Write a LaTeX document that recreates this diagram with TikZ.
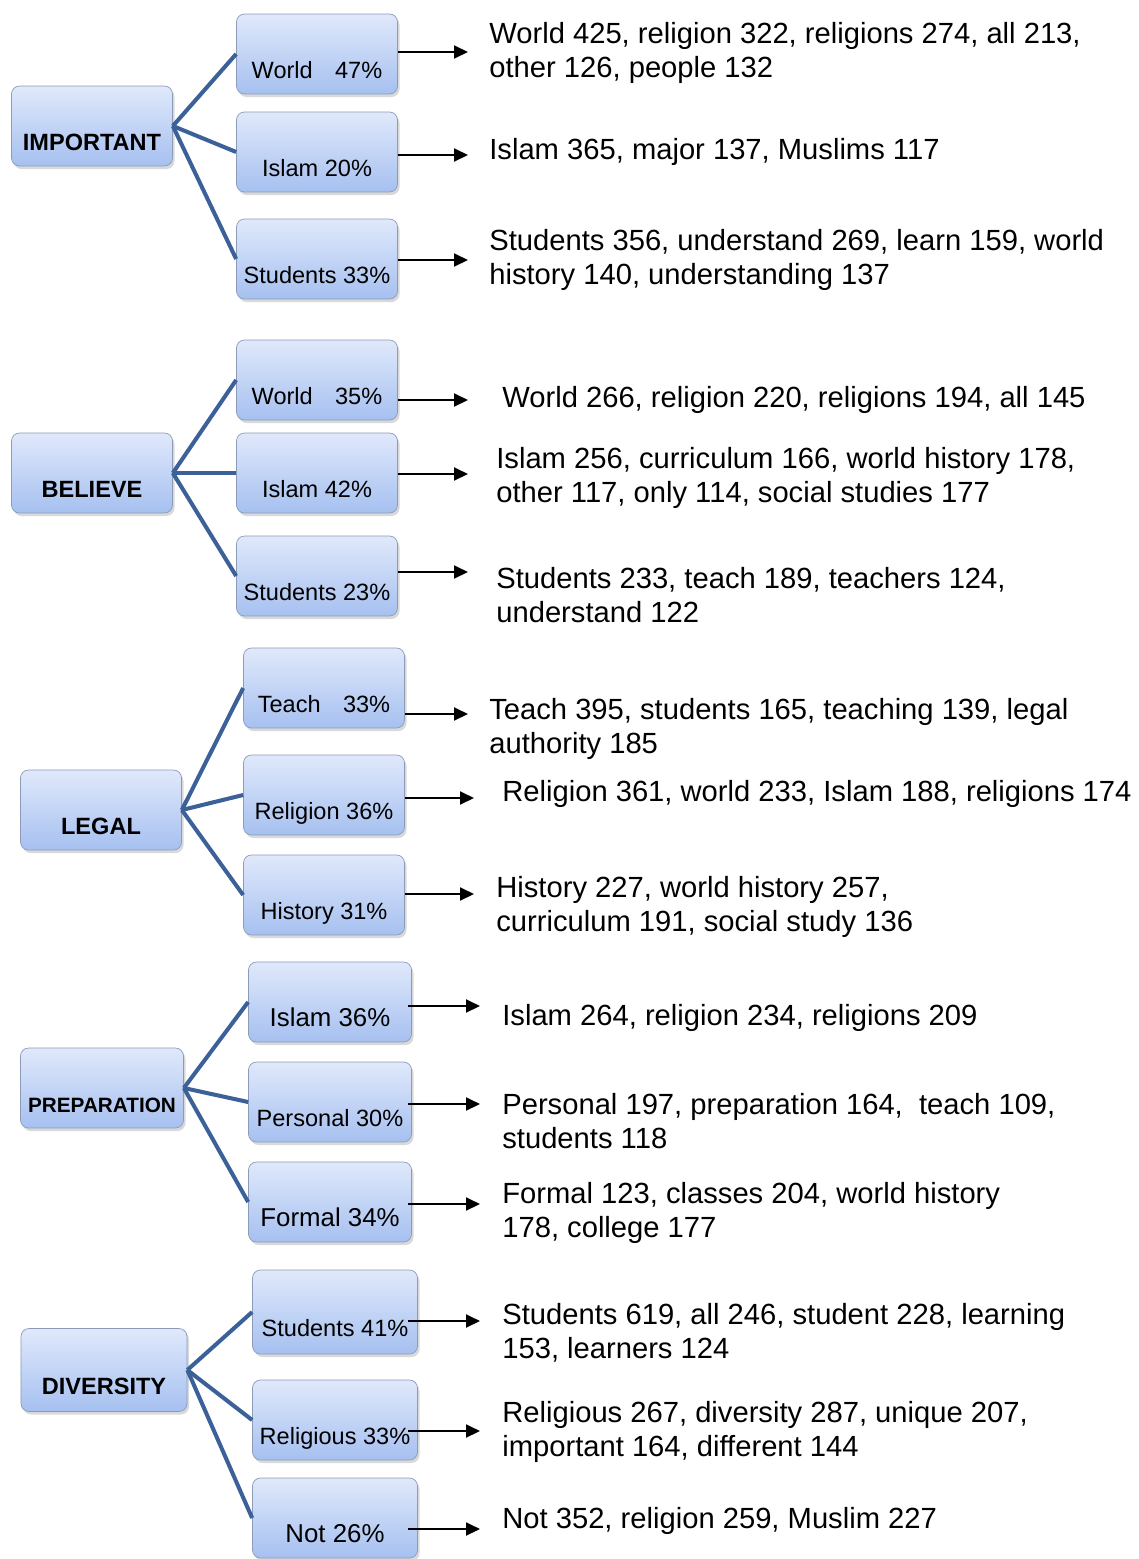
\documentclass[tikz,border=0pt]{standalone}
\usepackage{fontspec}
\setmainfont{Liberation Sans}
\usetikzlibrary{arrows.meta, shadows}
\definecolor{boxtop}{HTML}{E0E9FB}
\definecolor{boxbot}{HTML}{A6C0F0}
\definecolor{boxedge}{HTML}{8C9CB8}
\definecolor{linkblue}{HTML}{3C6198}
\tikzset{
    box/.style={draw=boxedge, rounded corners=1.6mm, top color=boxtop, bottom color=boxbot,
        minimum width=32.2mm, minimum height=16mm, inner sep=0pt,
        text height=28.3pt, text depth=0pt, font=\fontsize{13.4}{16}\selectfont,
        drop shadow={shadow xshift=0.4mm, shadow yshift=-0.6mm, opacity=0.3}}, % Shaded boxes
    root/.style={box, font=\fontsize{13.4}{16}\selectfont\bfseries}, % Theme boxes
    big/.style={font=\fontsize{14.7}{17}\selectfont}, % Slightly larger labels
    info/.style={anchor=west, align=left, inner sep=0pt, yshift=-0.6mm,
        font=\fontsize{16.6}{19.3}\selectfont},
    link/.style={draw=linkblue, line width=2.3pt}, % Tree branches
    arr/.style={-{Triangle[length=2.8mm, width=2.6mm]}, line width=1.1pt},
}
\begin{document}
\begin{tikzpicture}[x=0.2mm, y=-0.2mm]

    \useasboundingbox (0,0) rectangle (1138,1559);

    % --- IMPORTANT ---
    \node[root] (imp) at (92,126) {IMPORTANT};
    \node[box] (impW) at (317,54) {World\hspace{0.95em}47\%};
    \node[box] (impI) at (317,152) {Islam 20\%};
    \node[box] (impS) at (317,259) {Students 33\%};

    % --- BELIEVE ---
    \node[root] (bel) at (92,473) {BELIEVE};
    \node[box] (belW) at (317,380) {World\hspace{0.95em}35\%};
    \node[box] (belI) at (317,473) {Islam 42\%};
    \node[box] (belS) at (317,576) {Students 23\%};

    % --- LEGAL ---
    \node[root] (leg) at (101,810) {LEGAL};
    \node[box] (legT) at (324,688) {Teach\hspace{0.95em}33\%};
    \node[box] (legR) at (324,795) {Religion 36\%};
    \node[box] (legH) at (324,895) {History 31\%};

    % --- PREPARATION ---
    \node[root, minimum width=32.6mm, font=\fontsize{11.8}{14}\selectfont\bfseries] (pre) at (102,1088) {PREPARATION};
    \node[box, big, minimum width=32.6mm] (preI) at (330,1002) {Islam 36\%};
    \node[box, minimum width=32.6mm] (preP) at (330,1102) {Personal 30\%};
    \node[box, big, minimum width=32.6mm] (preF) at (330,1202) {Formal 34\%};

    % --- DIVERSITY ---
    \node[root, minimum width=33.2mm, minimum height=16.6mm] (div) at (104,1370) {DIVERSITY};
    \node[box, minimum width=33mm, minimum height=16.8mm] (divS) at (335,1312) {Students 41\%};
    \node[box, minimum width=33mm] (divR) at (335,1420) {Religious 33\%};
    \node[box, big, minimum width=33mm] (divN) at (335,1518) {Not 26\%};

    % --- Branches ---
    \foreach \r/\a/\b/\c in {imp/impW/impI/impS, bel/belW/belI/belS, leg/legT/legR/legH,
                             pre/preI/preP/preF, div/divS/divR/divN}{
        \draw[link] (\r.east) -- (\a.west);
        \draw[link] (\r.east) -- (\b.west);
        \draw[link] (\r.east) -- (\c.west);
    }

    % --- Arrow ends ---
    \coordinate (e1) at (468,52);
    \coordinate (e2) at (468,155);
    \coordinate (e3) at (468,260);
    \coordinate (e4) at (468,400);
    \coordinate (e5) at (468,474);
    \coordinate (e6) at (468,572);
    \coordinate (e7) at (468,714);
    \coordinate (e8) at (474,798);
    \coordinate (e9) at (474,894);
    \coordinate (e10) at (480,1006);
    \coordinate (e11) at (480,1104);
    \coordinate (e12) at (480,1204);
    \coordinate (e13) at (480,1321);
    \coordinate (e14) at (480,1431);
    \coordinate (e15) at (480,1529);

    \draw[arr] (impW.east |- e1) -- (e1);
    \draw[arr] (impI.east |- e2) -- (e2);
    \draw[arr] (impS.east |- e3) -- (e3);
    \draw[arr] (belW.east |- e4) -- (e4);
    \draw[arr] (belI.east |- e5) -- (e5);
    \draw[arr] (belS.east |- e6) -- (e6);
    \draw[arr] (legT.east |- e7) -- (e7);
    \draw[arr] (legR.east |- e8) -- (e8);
    \draw[arr] (legH.east |- e9) -- (e9);
    \draw[arr] ([xshift=-0.8mm]preI.east |- e10) -- (e10);
    \draw[arr] ([xshift=-0.8mm]preP.east |- e11) -- (e11);
    \draw[arr] ([xshift=-0.8mm]preF.east |- e12) -- (e12);
    \draw[arr] ([xshift=-2mm]divS.east |- e13) -- (e13);
    \draw[arr] ([xshift=-2mm]divR.east |- e14) -- (e14);
    \draw[arr] ([xshift=-2mm]divN.east |- e15) -- (e15);

    % --- Word counts ---
    \node[info] (t1) at (489,50) {World 425, religion 322, religions 274, all 213,\\other 126, people 132};
    \node[info] (t2) at (489,149) {Islam 365, major 137, Muslims 117};
    \node[info] (t3) at (489,257) {Students 356, understand 269, learn 159, world\\history 140, understanding 137};
    \node[info] (t4) at (502,397) {World 266, religion 220, religions 194, all 145};
    \node[info] (t5) at (496,475) {Islam 256, curriculum 166, world history 178,\\other 117, only 114, social studies 177};
    \node[info] (t6) at (496,592) {Students 233, teach 189, teachers 124,\\understand 122};
    \node[info] (t7) at (489,726) {Teach 395, students 165, teaching 139, legal\\authority 185};
    \node[info] (t8) at (502,791) {Religion 361, world 233, Islam 188, religions 174};
    \node[info] (t9) at (496,904) {History 227, world history 257,\\curriculum 191, social study 136};
    \node[info] (t10) at (502,1015) {Islam 264, religion 234, religions 209};
    \node[info] (t11) at (502,1118) {Personal 197, preparation 164, \ teach 109,\\students 118};
    \node[info] (t12) at (502,1210) {Formal 123, classes 204, world history\\178, college 177};
    \node[info] (t13) at (502,1330) {Students 619, all 246, student 228, learning\\153, learners 124};
    \node[info] (t14) at (502,1429) {Religious 267, diversity 287, unique 207,\\important 164, different 144};
    \node[info] (t15) at (502,1518) {Not 352, religion 259, Muslim 227};

\end{tikzpicture}
\end{document}
